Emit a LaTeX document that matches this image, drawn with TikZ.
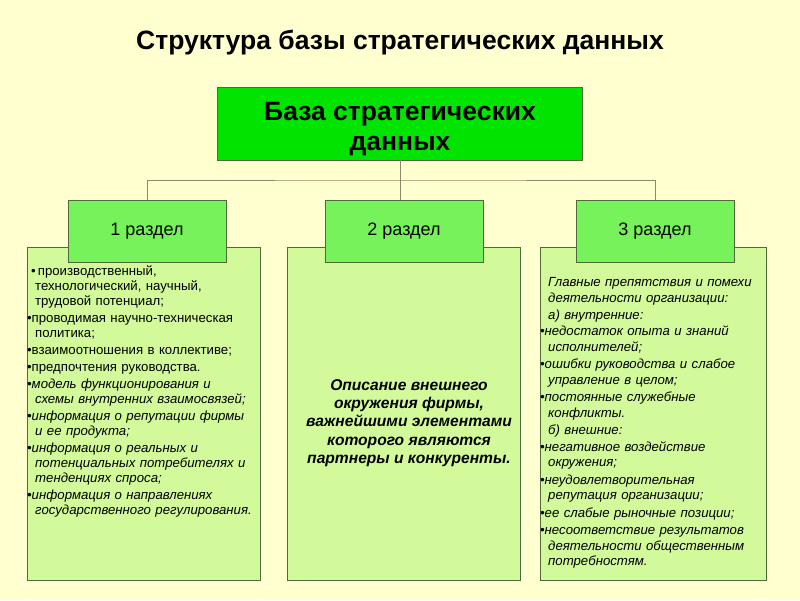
\documentclass[tikz,border=0pt]{standalone}
\usepackage{fontspec}
\setmainfont{Liberation Sans}
\usetikzlibrary{positioning}

\definecolor{bgyellow}{HTML}{FFFFD0}
\definecolor{topgreen}{HTML}{00E400}
\definecolor{partgreen}{HTML}{76F25A}
\definecolor{panelgreen}{HTML}{D2FA9A}
\definecolor{boxedge}{HTML}{4E6A3A}
\definecolor{linkgray}{HTML}{8A8A6A}

% bullet and continuation indent for the lists
\newcommand{\bul}{\makebox[4.5pt][l]{•}}
\newcommand{\cnt}{\hspace*{8pt}}

\begin{document}
\begin{tikzpicture}[x=1pt, y=-1pt,
  every node/.style={inner sep=0pt},
  topbox/.style={draw=boxedge, fill=topgreen, minimum width=365pt, minimum height=73pt},
  toptext/.style={align=center, font=\fontsize{26.5}{30}\selectfont\bfseries},
  partbox/.style={draw=boxedge, fill=partgreen, minimum width=158pt, minimum height=62pt,
                  font=\fontsize{18}{21}\selectfont},
  panel/.style={draw=boxedge, fill=panelgreen, anchor=north west, minimum height=333pt},
  listtext/.style={anchor=north west, align=left, text width=232pt,
                   font=\fontsize{13.2}{15}\selectfont},
  link/.style={draw=linkgray, line width=1pt}]
\fill[bgyellow] (0,0) rectangle (800,600);
\node[font=\fontsize{26.5}{30}\selectfont\bfseries] (title) at (400,43)
  {Структура базы стратегических данных};
\node[topbox] (base) at (400,123.5) {};
\node[toptext] (basetext) at ([yshift=-5.5pt]base.center) {База стратегических\\данных};
% panels under the section boxes
\node[panel, minimum width=233pt] (panel1) at (27,247) {};
\node[panel, minimum width=233pt] (panel2) at (287,247) {};
\node[panel, minimum width=226pt] (panel3) at (540,247) {};
\node[partbox] (part1) at (147,231) {1 раздел};
\node[partbox] (part2) at (404,231) {2 раздел};
\node[partbox] (part3) at (655,231) {3 раздел};
\coordinate (split) at (400,180);
\draw[link] (base.south) -- (split);
\draw[link] (part1.north) |- (split) -| (part3.north);
\draw[link] (split) -- (split |- part2.north);
% panel texts
\node[listtext] (list1) at (27,265) {%
  \hspace*{4pt}\bul\,производственный,\\
  \cnt технологический, научный,\\
  \cnt трудовой потенциал;\\[2pt]
  \bul проводимая научно-техническая\\
  \cnt политика;\\[2pt]
  \bul взаимоотношения в коллективе;\\[2pt]
  \bul предпочтения руководства.\\[2pt]
  \itshape
  \bul модель функционирования и\\
  \cnt схемы внутренних взаимосвязей;\\[2pt]
  \bul информация о репутации фирмы\\
  \cnt и ее продукта;\\[2pt]
  \bul информация о реальных и\\
  \cnt потенциальных потребителях и\\
  \cnt тенденциях спроса;\\[2pt]
  \bul информация о направлениях\\
  \cnt государственного регулирования.};
\node[align=center, font=\fontsize{15.6}{18.3}\selectfont\bfseries\itshape] (list2) at (409,423)
  {Описание внешнего\\окружения фирмы,\\важнейшими элементами\\которого являются\\партнеры и конкуренты.};
\node[listtext, font=\fontsize{13.2}{15.5}\selectfont\itshape] (list3) at (540,277) {%
  \cnt Главные препятствия и помехи\\[1pt]
  \cnt деятельности организации:\\[1pt]
  \cnt а) внутренние:\\[1pt]
  \bul недостаток опыта и знаний\\
  \cnt исполнителей;\\[2pt]
  \bul ошибки руководства и слабое\\
  \cnt управление в целом;\\[2pt]
  \bul постоянные служебные\\
  \cnt конфликты.\\[2pt]
  \cnt б) внешние:\\[1pt]
  \bul негативное воздействие\\
  \cnt окружения;\\[2pt]
  \bul неудовлетворительная\\
  \cnt репутация организации;\\[2pt]
  \bul ее слабые рыночные позиции;\\[2pt]
  \bul несоответствие результатов\\
  \cnt деятельности общественным\\
  \cnt потребностям.};
\end{tikzpicture}
\end{document}
